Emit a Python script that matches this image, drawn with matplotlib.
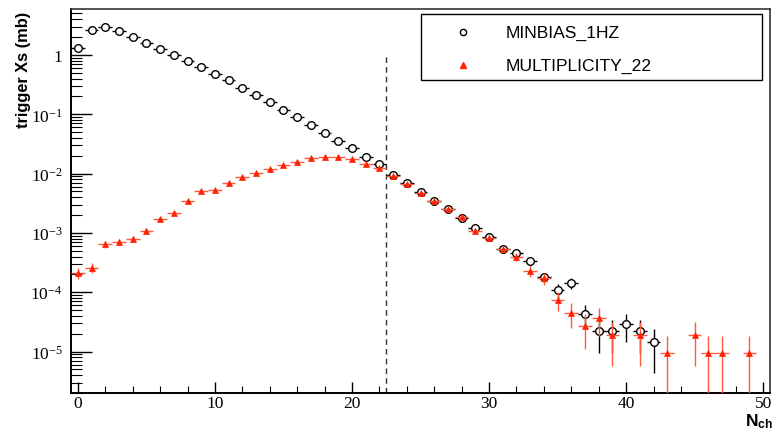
import matplotlib
matplotlib.use('Agg')
import matplotlib.pyplot as plt
from matplotlib.patches import Rectangle
from matplotlib.ticker import FixedLocator, FixedFormatter, LogLocator, MultipleLocator, NullFormatter

# trigger cross section per multiplicity bin
minbias_x = list(range(0, 43))
minbias_y = [1.3, 2.6, 3.0, 2.5, 2.03, 1.59, 1.28, 1.01, 0.78, 0.62,
             0.48, 0.376, 0.28, 0.215, 0.16, 0.12, 0.090, 0.067, 0.049, 0.036,
             0.0266, 0.019, 0.0145, 0.0096, 0.0070, 0.0048, 0.00343, 0.0025, 0.0018, 0.0012,
             8.5e-4, 5.4e-4, 4.5e-4, 3.3e-4, 1.78e-4, 1.07e-4, 1.45e-4, 4.35e-5, 2.2e-5, 2.2e-5,
             2.9e-5, 2.2e-5, 1.43e-5]
minbias_err = [3.1e-3, 4.3e-3, 4.6e-3, 4.2e-3, 3.8e-3, 3.4e-3, 3.0e-3, 2.7e-3, 2.4e-3, 2.1e-3,
               1.9e-3, 1.6e-3, 1.4e-3, 1.2e-3, 1.1e-3, 9.3e-4, 8.0e-4, 6.9e-4, 5.9e-4, 5.1e-4,
               4.4e-4, 3.7e-4, 3.2e-4, 2.6e-4, 2.2e-4, 1.9e-4, 1.6e-4, 1.3e-4, 1.1e-4, 9.3e-5,
               7.8e-5, 6.2e-5, 5.7e-5, 4.9e-5, 3.6e-5, 2.8e-5, 3.2e-5, 1.8e-5, 1.26e-5, 1.26e-5,
               1.45e-5, 1.26e-5, 1.0e-5]

mult_x = list(range(0, 40)) + [41, 43, 45, 46, 47, 49]
mult_y = [2.08e-4, 2.6e-4, 6.4e-4, 7.0e-4, 7.9e-4, 1.09e-3, 1.7e-3, 2.2e-3, 3.4e-3, 5.0e-3,
          5.2e-3, 7.0e-3, 8.9e-3, 1.04e-2, 1.21e-2, 1.41e-2, 1.58e-2, 1.83e-2, 1.9e-2, 1.9e-2,
          1.79e-2, 1.47e-2, 1.26e-2, 9.1e-3, 6.7e-3, 4.7e-3, 3.47e-3, 2.5e-3, 1.84e-3, 1.09e-3,
          8.3e-4, 5.4e-4, 3.9e-4, 2.3e-4, 1.72e-4, 7.4e-5, 4.55e-5, 2.7e-5, 3.65e-5, 1.87e-5,
          1.87e-5, 9.3e-6, 1.87e-5, 9.3e-6, 9.3e-6, 9.3e-6]
mult_err = [4.4e-5, 4.9e-5, 7.7e-5, 8.1e-5, 8.6e-5, 1.0e-4, 1.26e-4, 1.43e-4, 1.78e-4, 2.16e-4,
            2.2e-4, 2.55e-4, 2.88e-4, 3.1e-4, 3.35e-4, 3.6e-4, 3.8e-4, 4.1e-4, 4.2e-4, 4.2e-4,
            4.1e-4, 3.7e-4, 3.4e-4, 2.9e-4, 2.5e-4, 2.1e-4, 1.8e-4, 1.5e-4, 1.3e-4, 1.0e-4,
            8.8e-5, 7.1e-5, 6.0e-5, 4.6e-5, 4.0e-5, 2.6e-5, 2.1e-5, 1.6e-5, 1.8e-5, 1.3e-5,
            1.3e-5, 9.3e-6, 1.3e-5, 9.3e-6, 9.3e-6, 9.3e-6]

labels = ['MINBIAS_1HZ', 'MULTIPLICITY_22']
threshold = 22.5

y_major = [1e-5, 1e-4, 1e-3, 1e-2, 1e-1, 1]
y_major_labels = [r'$10^{-5}$', r'$10^{-4}$', r'$10^{-3}$', r'$10^{-2}$', r'$10^{-1}$', '1']

plt.rcParams['font.family'] = ['Liberation Serif', 'DejaVu Serif']
plt.rcParams['mathtext.fontset'] = 'custom'
plt.rcParams['mathtext.rm'] = 'Liberation Serif'
plt.rcParams['mathtext.it'] = 'Liberation Serif:italic'
plt.rcParams['mathtext.bf'] = 'Liberation Sans:bold'

red = '#ff2200'
red_err = '#ff5a40'

fig = plt.figure(figsize=(7.73, 4.31), dpi=100)
ax = fig.add_axes([71 / 773, 1 - 394 / 431, 699 / 773, 384 / 431])
ax.set_yscale('log', nonpositive='clip')
ax.set_xlim(-0.5, 50.5)
ax.set_ylim(2.0e-6, 5.95)

ax.errorbar(minbias_x, minbias_y, yerr=minbias_err, xerr=0.5, fmt='o', ms=5.5,
            mfc='white', mec='black', mew=1.0, ecolor='black', elinewidth=1.0,
            capsize=0, zorder=3)
ax.errorbar(mult_x, mult_y, yerr=mult_err, xerr=0.5, fmt='^', ms=5.0,
            mfc=red, mec=red, mew=0.5, ecolor=red_err, elinewidth=1.0,
            capsize=0, zorder=4)

ax.vlines(threshold, 2.0e-6, 1.0, colors='#333333', linestyles=(0, (4, 3)),
          linewidth=1.0, zorder=2)

# ticks
ax.yaxis.set_major_locator(FixedLocator(y_major))
ax.yaxis.set_major_formatter(FixedFormatter(y_major_labels))
ax.yaxis.set_minor_locator(LogLocator(base=10, subs=[2, 3, 4, 5, 6, 7, 8, 9], numticks=20))
ax.yaxis.set_minor_formatter(NullFormatter())
ax.xaxis.set_major_locator(MultipleLocator(10))
ax.xaxis.set_minor_locator(MultipleLocator(2))

ax.tick_params(axis='y', which='major', direction='in', length=15, width=1.0,
               labelsize=12.5, pad=6, right=False)
ax.tick_params(axis='y', which='minor', direction='in', length=8, width=0.8, right=False)
ax.tick_params(axis='x', which='major', direction='in', length=8, width=1.0,
               labelsize=12.5, pad=1.5, top=False)
ax.tick_params(axis='x', which='minor', direction='in', length=5, width=0.8, top=False)

for side in ['left', 'bottom']:
    ax.spines[side].set_linewidth(1.4)
for side in ['top', 'right']:
    ax.spines[side].set_linewidth(1.2)
    ax.spines[side].set_color('#333333')

# axis titles
fig.text(24 / 773, 1 - 12 / 431, 'trigger Xs (mb)', rotation=90, ha='center', va='top',
         family='Liberation Sans', weight='bold', fontsize=11.8)
fig.text(745 / 773, 1 - 426 / 431, r'$\mathbf{N_{ch}}$', ha='left', va='baseline',
         fontsize=12.5)

# legend box
ax.add_patch(Rectangle((0.5007, 0.8151), 0.4878, 0.1719, transform=ax.transAxes,
                       facecolor='white', edgecolor='black', linewidth=1.0, zorder=5))
ax.plot([0.5608], [0.9401], 'o', ms=4.5, mfc='white', mec='black', mew=1.0,
        transform=ax.transAxes, zorder=6, clip_on=False)
ax.plot([0.5608], [0.8542], '^', ms=4.5, mfc=red, mec=red,
        transform=ax.transAxes, zorder=6, clip_on=False)
for lab, ypos in zip(labels, [0.9401, 0.8542]):
    ax.text(0.6223, ypos, lab, transform=ax.transAxes, ha='left', va='center',
            family='Liberation Sans', fontsize=12.6, zorder=6)

plt.savefig('out.png', dpi=100)
plt.close()
